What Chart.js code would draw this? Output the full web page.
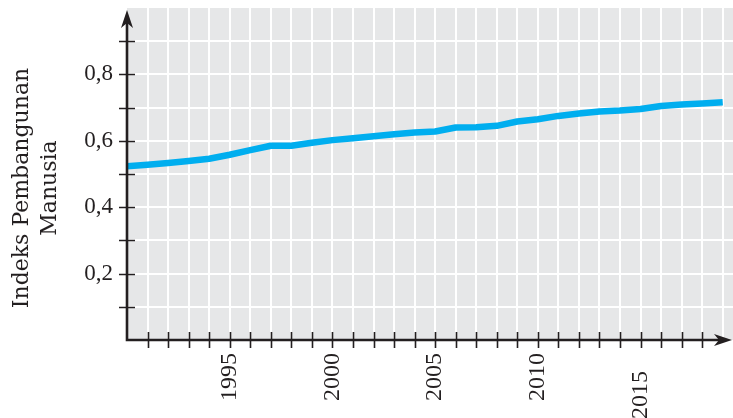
<!DOCTYPE html>
<html>
<head>
<meta charset="utf-8">
<script src="https://cdn.jsdelivr.net/npm/chart.js@4.4.1/dist/chart.umd.min.js"></script>
<style>
  html, body { margin: 0; padding: 0; background: #fff; }
  #wrap { width: 733px; height: 418px; }
</style>
</head>
<body>
<div id="wrap"><canvas id="hdiChart"></canvas></div>
<script>
const years = [
  1990, 1991, 1992, 1993, 1994, 1995, 1996, 1997, 1998, 1999,
  2000, 2001, 2002, 2003, 2004, 2005, 2006, 2007, 2008, 2009,
  2010, 2011, 2012, 2013, 2014, 2015, 2016, 2017, 2018, 2019,
];
const hdi = [
  0.523, 0.528, 0.533, 0.539, 0.546, 0.558, 0.572, 0.585, 0.585, 0.594,
  0.602, 0.608, 0.614, 0.620, 0.625, 0.628, 0.640, 0.641, 0.645, 0.658,
  0.665, 0.675, 0.682, 0.688, 0.691, 0.696, 0.705, 0.709, 0.712, 0.716,
];
const yTickValues = [0.2, 0.4, 0.6, 0.8];
const yTickLabels = ["0,2", "0,4", "0,6", "0,8"];
const xTickYears = [1995, 2000, 2005, 2010, 2015];
const xTickLabels = ["1995", "2000", "2005", "2010", "2015"];
const titleLines = ["Indeks Pembangunan", "Manusia"];

const INK = "#231f20";
const PANEL = "#e6e7e8";
const LINE = "#00aeef";

// grey plot panel behind the grid
const panelBg = {
  id: "panelBg",
  beforeDraw(chart) {
    const { ctx, chartArea: a } = chart;
    ctx.save();
    ctx.fillStyle = PANEL;
    ctx.fillRect(a.left, a.top, a.right - a.left, a.bottom - a.top);
    ctx.restore();
  },
};

function arrowHead(ctx, tipX, tipY, angle) {
  ctx.save();
  ctx.translate(tipX, tipY);
  ctx.rotate(angle);
  ctx.beginPath();
  ctx.moveTo(0, 0);
  ctx.lineTo(-18, -6);
  ctx.lineTo(-13, 0);
  ctx.lineTo(-18, 6);
  ctx.closePath();
  ctx.fill();
  ctx.restore();
}

// black axes with arrows and ticks crossing the axis lines
const axesOverlay = {
  id: "axesOverlay",
  afterDatasetsDraw(chart) {
    const { ctx, chartArea: a, scales } = chart;
    const x0 = a.left;
    const y0 = a.bottom;
    ctx.save();
    ctx.strokeStyle = INK;
    ctx.fillStyle = INK;

    ctx.lineWidth = 1.6;
    ctx.beginPath();
    scales.y.ticks.forEach((t) => {
      if (t.value <= 0.001 || t.value >= 0.95) return;
      const py = Math.round(scales.y.getPixelForValue(t.value)) + 0.5;
      ctx.moveTo(x0 - 8, py);
      ctx.lineTo(x0 + 8, py);
    });
    scales.x.ticks.forEach((t) => {
      if (t.value <= years[0] || t.value >= years[years.length - 1]) return;
      const px = Math.round(scales.x.getPixelForValue(t.value)) + 0.5;
      ctx.moveTo(px, y0 - 8);
      ctx.lineTo(px, y0 + 8);
    });
    ctx.stroke();

    ctx.lineWidth = 2.6;
    ctx.beginPath();
    ctx.moveTo(x0, y0);
    ctx.lineTo(x0, 22);
    ctx.moveTo(x0 - 1.3, y0);
    ctx.lineTo(a.right - 12, y0);
    ctx.stroke();
    arrowHead(ctx, x0, 10, -Math.PI / 2);
    arrowHead(ctx, a.right - 1, y0, 0);
    ctx.restore();
  },
};

// two-line rotated axis title
const yTitle = {
  id: "yTitle",
  afterDraw(chart) {
    const { ctx } = chart;
    ctx.save();
    ctx.fillStyle = INK;
    ctx.font = "22px 'DejaVu Serif'";
    ctx.textAlign = "center";
    ctx.textBaseline = "alphabetic";
    ctx.translate(0, 188);
    ctx.rotate(-Math.PI / 2);
    ctx.fillText(titleLines[0], 0, 28);
    ctx.fillText(titleLines[1], 0, 56);
    ctx.restore();
  },
};

const ctx = document.getElementById("hdiChart").getContext("2d");

new Chart(ctx, {
  type: "line",
  data: {
    datasets: [
      {
        data: years.map((yr, i) => ({ x: yr, y: hdi[i] })),
        borderColor: LINE,
        borderWidth: 6.5,
        borderCapStyle: "butt",
        borderJoinStyle: "round",
        pointRadius: 0,
        tension: 0,
        fill: false,
      },
    ],
  },
  options: {
    responsive: true,
    maintainAspectRatio: false,
    animation: false,
    layout: { padding: { top: 8, right: 0, bottom: 0, left: 0 } },
    plugins: {
      legend: { display: false },
      tooltip: { enabled: false },
    },
    scales: {
      x: {
        type: "linear",
        min: 1990,
        max: 2019.5,
        border: { display: false },
        grid: {
          color: (c) => (c.tick && c.tick.value === 1990 ? "rgba(0,0,0,0)" : "#ffffff"),
          lineWidth: 2,
          drawTicks: false,
        },
        ticks: {
          stepSize: 1,
          includeBounds: false,
          autoSkip: false,
          minRotation: 90,
          maxRotation: 90,
          padding: 13,
          color: INK,
          font: { family: "'Liberation Serif'", size: 24 },
          callback: (value) => {
            const i = xTickYears.indexOf(Math.round(value));
            if (i < 0) return "";
            // the last year label sits a little lower
            return xTickLabels[i] + (xTickYears[i] === 2015 ? "   " : "");
          },
        },
        afterFit: (scale) => {
          scale.height = 78;
          scale.paddingLeft = 0;
          scale.paddingRight = 0;
        },
      },
      y: {
        min: 0,
        max: 1,
        border: { display: false },
        grid: {
          color: (c) => (c.tick && (c.tick.value <= 0.001 || c.tick.value >= 0.999) ? "rgba(0,0,0,0)" : "#ffffff"),
          lineWidth: 2,
          drawTicks: false,
        },
        ticks: {
          stepSize: 0.1,
          autoSkip: false,
          padding: 14,
          color: INK,
          font: { family: "'Liberation Serif'", size: 23 },
          callback: (value) => {
            const i = yTickValues.findIndex((v) => Math.abs(v - value) < 0.001);
            return i < 0 ? "" : yTickLabels[i];
          },
        },
        afterFit: (scale) => {
          scale.width = 127;
          scale.paddingTop = 0;
          scale.paddingBottom = 0;
        },
      },
    },
  },
  plugins: [panelBg, axesOverlay, yTitle],
});
</script>
</body>
</html>
